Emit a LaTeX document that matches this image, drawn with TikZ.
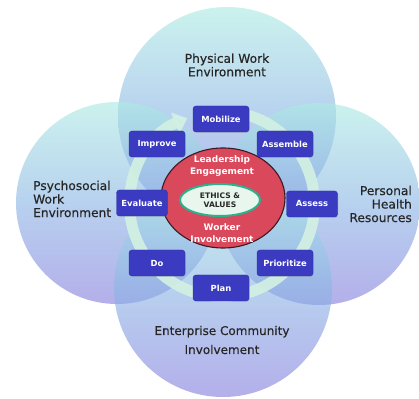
\documentclass[tikz,border=0pt]{standalone}
\usepackage{fontspec}
\setmainfont{DejaVu Sans}
\newfontfamily\arealblfont[FakeBold=0.5]{DejaVu Sans}
\usetikzlibrary{arrows.meta,shadows,shapes.geometric}
\definecolor{boxblue}{HTML}{3B3BC2}
\definecolor{boxline}{HTML}{2E2EA0}
\definecolor{redc}{HTML}{D9485B}
\definecolor{redline}{HTML}{3B1A25}
\definecolor{ringc}{HTML}{D3F0E3}
\definecolor{ethfill}{HTML}{E8F6EE}
\definecolor{ethline}{HTML}{2DB08C}
\definecolor{lblc}{HTML}{262626}
\definecolor{ctop}{RGB}{172,235,227}
\definecolor{cmid}{RGB}{140,182,230}
\definecolor{cbot}{RGB}{134,126,222}
\begin{document}
\begin{tikzpicture}[x=1pt,y=1pt,
  bubble/.style={opacity=0.62, top color=ctop, bottom color=cbot, middle color=cmid},
  stepbox/.style={rectangle, rounded corners=3pt, fill=boxblue, draw=boxline, line width=0.4pt,
    minimum width=56pt, minimum height=26pt, inner sep=1pt, text=white,
    font=\fontsize{8.4}{9}\selectfont\bfseries,
    drop shadow={opacity=0.25, shadow xshift=0.8pt, shadow yshift=-0.8pt}},
  narrowbox/.style={stepbox, minimum width=51pt},
  arealabel/.style={text=lblc, font=\arealblfont\fontsize{12.2}{13.5}\selectfont, inner sep=0pt},
  ringstyle/.style={draw=ringc, line width=11pt, opacity=0.92, -{Triangle[width=22pt,length=13pt]}},
  coretext/.style={text=white, align=center, font=\fontsize{9}{12}\selectfont\bfseries, inner sep=0pt}
]
\useasboundingbox[fill=white] (0,0) rectangle (419,398);

% four overlapping areas
\shade[bubble] (227,282) circle[radius=109pt];
\shade[bubble] (117,195) circle[radius=101pt];
\shade[bubble] (319,194) circle[radius=101pt];
\shade[bubble] (223,110) circle[radius=109pt];

% cycle ring
\coordinate (ring) at (222,194);
\draw[ringstyle] (ring) ++(462:92.5pt) arc[start angle=462, end angle=112, radius=92.5pt];

% core
\node[ellipse, draw=redline, line width=1.1pt, fill=redc, minimum width=124pt, minimum height=100pt, inner sep=0pt] (core) at (223,200) {};
\node[ellipse, draw=ethline, line width=2pt, fill=ethfill, minimum width=80pt, minimum height=32pt, inner sep=0pt,
  align=center, text=lblc, font=\fontsize{7.6}{9}\selectfont\bfseries] (ethics) at (220,198) {ETHICS \&\\VALUES};
\node[coretext] (lead) at (222,232) {Leadership\\Engagement};
\node[coretext] (work) at (222,165) {Worker\\Involvement};

% steps
\node[stepbox] (mobilize) at (221,279) {Mobilize};
\node[stepbox] (assemble) at (285,254) {Assemble};
\node[narrowbox] (assess) at (312,194) {Assess};
\node[stepbox] (prioritize) at (285,135) {Prioritize};
\node[stepbox] (plan) at (221,110) {Plan};
\node[stepbox] (do) at (157,135) {Do};
\node[narrowbox] (evaluate) at (142,195) {Evaluate};
\node[stepbox] (improve) at (157,254) {Improve};

% area labels
\node[arealabel, align=center] (phys) at (227,333) {Physical Work\\Environment};
\node[arealabel, align=left, anchor=west] (psy) at (33,199) {Psychosocial\\Work\\Environment};
\node[arealabel, align=right, anchor=east] (pers) at (412,194) {Personal\\Health\\Resources};
\node[arealabel, align=center, font=\arealblfont\fontsize{12}{19}\selectfont] (ent) at (222,58) {Enterprise Community\\Involvement};
\end{tikzpicture}
\end{document}
